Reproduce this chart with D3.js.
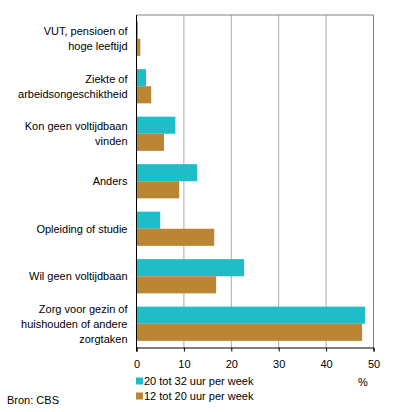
<!DOCTYPE html>
<html>
<head>
<meta charset="utf-8">
<script src="https://cdn.jsdelivr.net/npm/d3@7"></script>
<style>
  body { margin: 0; background: #fff; }
  text { font-family: "Liberation Sans", Arial, sans-serif; font-size: 11px; fill: #000; }
</style>
</head>
<body>
<svg id="chart"></svg>
<script>
const WIDTH = 396;
const HEIGHT = 412;

const categories = [
  ["VUT, pensioen of", "hoge leeftijd"],
  ["Ziekte of", "arbeidsongeschiktheid"],
  ["Kon geen voltijdbaan", "vinden"],
  ["Anders"],
  ["Opleiding of studie"],
  ["Wil geen voltijdbaan"],
  ["Zorg voor gezin of", "huishouden of andere", "zorgtaken"]
];
const series = ["20 tot 32 uur per week", "12 tot 20 uur per week"];
const values20to32 = [0.3, 2.0, 8.2, 12.8, 5.0, 22.7, 48.2];
const values12to20 = [0.8, 3.1, 5.8, 9.0, 16.4, 16.8, 47.6];
const ticks = [0, 10, 20, 30, 40, 50];

const COLORS = ["#1ebdc8", "#bb8633"];
const margin = {left: 136.5, right: 22.5, top: 15, bottom: 64.5};

function main(){
  var svg = d3.select("#chart").attr("width", WIDTH).attr("height", HEIGHT);
  var plotW = WIDTH - margin.left - margin.right;
  var plotH = HEIGHT - margin.top - margin.bottom;

  var x = d3.scaleLinear().domain([0, 50]).range([0, plotW]);
  var y = d3.scaleBand().domain(d3.range(categories.length)).range([0, plotH]).paddingInner(0.28).paddingOuter(0.14);

  var g = svg.append("g").attr("transform", "translate(" + margin.left + "," + margin.top + ")");

  // gridlines
  g.selectAll("line.grid")
    .data(ticks.slice(1, -1))
    .enter().append("line")
    .attr("x1", d => x(d)).attr("x2", d => x(d))
    .attr("y1", 0).attr("y2", plotH)
    .attr("stroke", "#aaaaaa").attr("stroke-width", 1);

  // frame top + right
  g.append("path")
    .attr("d", "M0,0H" + x(50) + "V" + plotH)
    .attr("fill", "none").attr("stroke", "#808080").attr("stroke-width", 1);

  var data = [values20to32, values12to20];
  var barH = y.bandwidth() / 2;
  data.forEach((vals, s)=>{
    g.selectAll("rect.s" + s)
      .data(vals)
      .enter().append("rect")
      .attr("x", 0)
      .attr("y", (d, i) => y(i) + s * barH)
      .attr("width", d => x(d))
      .attr("height", barH)
      .attr("fill", COLORS[s]);
  });

  // x axis
  var xAxis = d3.axisBottom(x).tickValues(ticks).tickSize(4).tickPadding(9);
  var ax = g.append("g").attr("transform", "translate(0," + plotH + ")").call(xAxis);
  ax.select(".domain").attr("stroke", "#000");
  ax.selectAll(".tick line").attr("stroke", "#000");
  ax.selectAll("text").attr("font-size", 11).attr("font-family", "Liberation Sans, Arial, sans-serif").attr("fill", "#000");

  // y axis line
  g.append("line").attr("x1", 0).attr("x2", 0).attr("y1", 0).attr("y2", plotH + 4)
    .attr("stroke", "#000").attr("stroke-width", 1);

  // category labels
  var lineH = 15;
  categories.forEach((lines, i)=>{
    var cy = y(i) + y.bandwidth() / 2;
    var t = g.append("text")
      .attr("text-anchor", "end")
      .attr("x", -9);
    lines.forEach((ln, j)=>{
      t.append("tspan")
        .attr("x", -9)
        .attr("y", cy + (j - (lines.length - 1) / 2) * lineH + 4)
        .text(ln);
    });
  });

  // unit
  svg.append("text").attr("x", 363).attr("y", 386).attr("text-anchor", "middle").text("%");

  // legend
  series.forEach((name, i)=>{
    var ly = 381 + i * 15;
    svg.append("rect").attr("x", 136).attr("y", ly - 3.5).attr("width", 7).attr("height", 7).attr("fill", COLORS[i]);
    svg.append("text").attr("x", 144).attr("y", ly + 4).text(name);
  });

  svg.append("text").attr("x", 7).attr("y", 404).text("Bron: CBS");
}

window.addEventListener("load", main);
</script>
</body>
</html>
